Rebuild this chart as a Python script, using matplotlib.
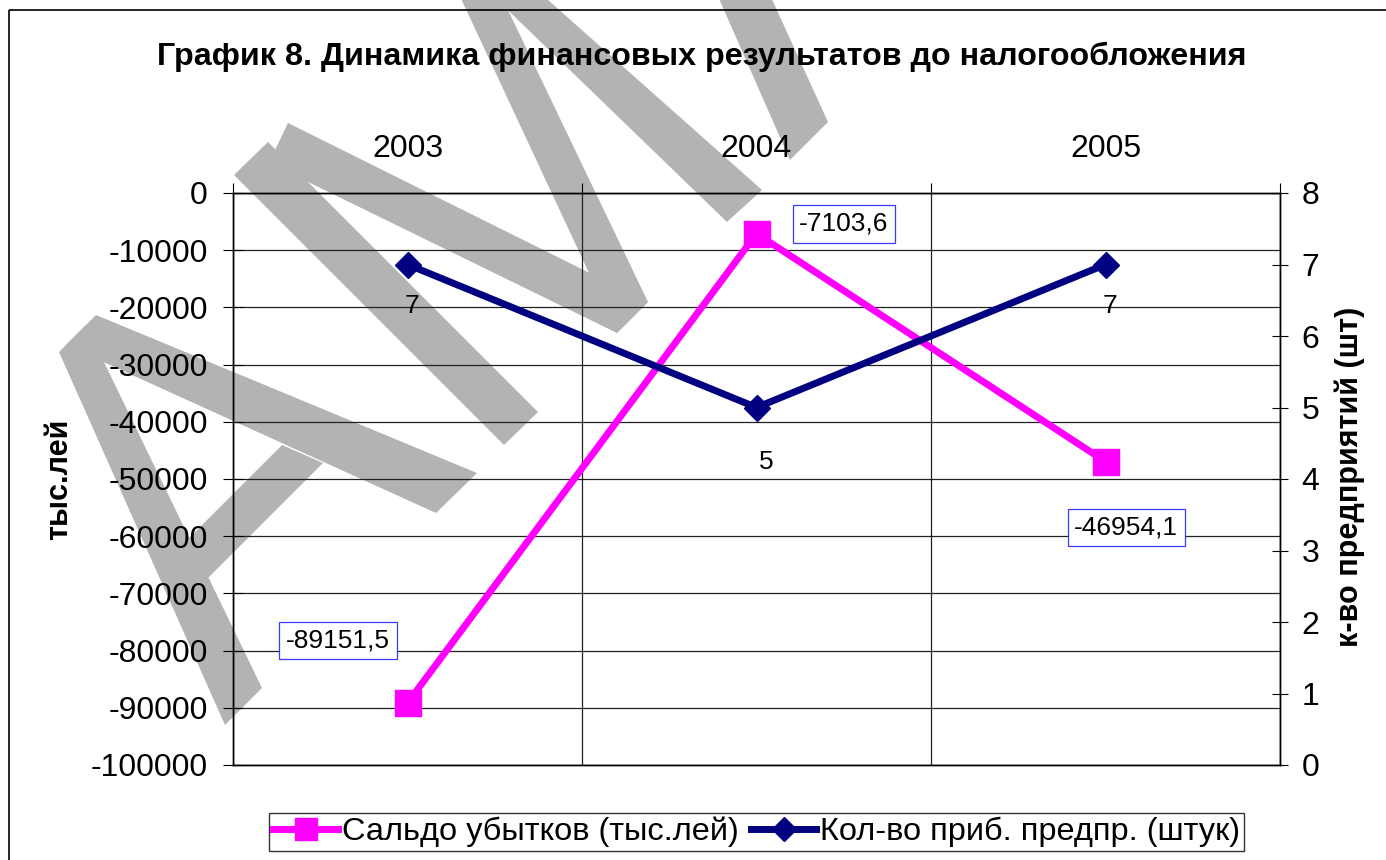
import matplotlib
matplotlib.use('Agg')
import matplotlib.pyplot as plt
import matplotlib.transforms as mtransforms
from matplotlib.patches import Polygon, Rectangle
from matplotlib.lines import Line2D

plt.rcParams['font.family'] = ['Liberation Sans', 'DejaVu Sans']

# data
years = ['2003', '2004', '2005']
losses = [-89151.5, -7103.6, -46954.1]          # тыс.лей, left axis
firms = [7, 5, 7]                                # штук, right axis
left_ticks = list(range(-100000, 1, 10000))
right_ticks = list(range(0, 9))

title = 'График 8. Динамика финансовых результатов до налогообложения'
loss_name = 'Сальдо убытков (тыс.лей)'
firm_name = 'Кол-во приб. предпр. (штук)'

PINK = '#ff00ff'
NAVY = '#000080'
W, H = 1386, 860

fig = plt.figure(figsize=(W / 100, H / 100), dpi=100)
fig.patch.set_facecolor('white')

# pixel coordinates (origin top-left) -> figure
px = mtransforms.Affine2D().scale(1 / W, -1 / H).translate(0, 1) + fig.transFigure

# watermark letters behind everything
wm_gray = '#b3b3b3'
watermark = [
    [(59, 352), (86, 325), (262, 688), (225, 725)],
    [(66, 345), (96, 315), (477, 473), (436, 513)],
    [(282, 445), (323, 463), (200, 586), (175, 552)],
    [(234, 175), (268, 142), (538, 412), (504, 445)],
    [(275, 150), (288, 123), (648, 302), (617, 333), (300, 178)],
    [(443, -40), (484, -40), (648, 302), (617, 333)],
    [(456, -40), (503, -40), (762, 190), (727, 222)],
    [(702, -40), (754, -40), (828, 122), (790, 160)],
]
for poly in watermark:
    fig.patches.append(Polygon(poly, closed=True, facecolor=wm_gray, edgecolor='none',
                               transform=px, zorder=-2))

# chart frame
fig.patches.append(Rectangle((9, 10), 1500, 1000, fill=False, edgecolor='black',
                             linewidth=1.2, transform=px, zorder=-1))

left, right, top, bottom = 233, 1280, 193, 765
ax = fig.add_axes([left / W, 1 - bottom / H, (right - left) / W, (bottom - top) / H])
ax.set_facecolor('none')
x = list(range(len(years)))

ax.set_xlim(-0.5, len(years) - 0.5)
ax.set_ylim(-100000, 0)
ax.set_yticks(left_ticks)
ax.set_yticklabels([str(t) for t in left_ticks])
ax.tick_params(axis='y', direction='inout', length=14, width=0.8, labelsize=23, pad=11)
ax.yaxis.grid(True, color='#222222', linewidth=0.9)

ax.xaxis.tick_top()
ax.set_xticks(x)
ax.set_xticklabels(years)
ax.set_xticks([i - 0.5 for i in range(len(years) + 1)], minor=True)
ax.tick_params(axis='x', which='major', length=0, labelsize=23, pad=21)
ax.tick_params(axis='x', which='minor', direction='out', length=7, width=0.8)
ax.xaxis.grid(True, which='minor', color='#222222', linewidth=0.9)
ax.set_axisbelow(True)
for s in ax.spines.values():
    s.set_linewidth(1.0)
    s.set_color('black')

ax.plot(x, losses, color=PINK, linewidth=5, marker='s', markersize=19, zorder=3)

ax2 = ax.twinx()
ax2.set_facecolor('none')
ax2.set_ylim(0, 8)
ax2.set_yticks(right_ticks)
ax2.tick_params(axis='y', direction='inout', length=11, width=0.8, labelsize=23, pad=10)
for s in ax2.spines.values():
    s.set_linewidth(1.0)
    s.set_color('black')
ax2.plot(x, firms, color=NAVY, linewidth=5, marker='D', markersize=13.5, zorder=3)

# data labels
loss_offsets = [(-50, 45), (63, 7), (15, -47.5)]
for xi, v, off in zip(x, losses, loss_offsets):
    ax.annotate(f'{v:.1f}'.replace('.', ','), (xi, v), xytext=off, textcoords='offset points',
                ha='center', va='center', fontsize=19, zorder=5,
                bbox=dict(boxstyle='square,pad=0.25', facecolor='white', edgecolor='#3a3aff',
                          linewidth=0.9))
firm_offsets = [(3, -30), (7, -39), (3, -30)]
for xi, v, off in zip(x, firms, firm_offsets):
    ax2.annotate(str(v), (xi, v), xytext=off, textcoords='offset points',
                 ha='center', va='center', fontsize=19)

# titles
fig.text(702 / W, 1 - 57 / H, title, ha='center', va='center', fontsize=23.2, fontweight='bold')
fig.text(59 / W, 1 - 479 / H, 'тыс.лей', rotation=90, ha='center', va='center',
         fontsize=22, fontweight='bold')
fig.text(1350 / W, 1 - 477 / H, 'к-во предприятий (шт)', rotation=90, ha='center',
         va='center', fontsize=22, fontweight='bold')

# legend
handles = [Line2D([], [], color=PINK, linewidth=5, marker='s', markersize=16),
           Line2D([], [], color=NAVY, linewidth=5, marker='D', markersize=12)]
leg = fig.legend(handles, [loss_name, firm_name], loc='upper center',
                 bbox_to_anchor=(756.5 / W, 1 - 813 / H), ncol=2, fontsize=23.4,
                 frameon=True, fancybox=False, edgecolor='#333333', framealpha=1,
                 handlelength=2.0, handletextpad=0.1, columnspacing=0.4,
                 borderpad=0.12, borderaxespad=0)
leg.get_frame().set_linewidth(1.0)

fig.savefig('out.png', dpi=100)
